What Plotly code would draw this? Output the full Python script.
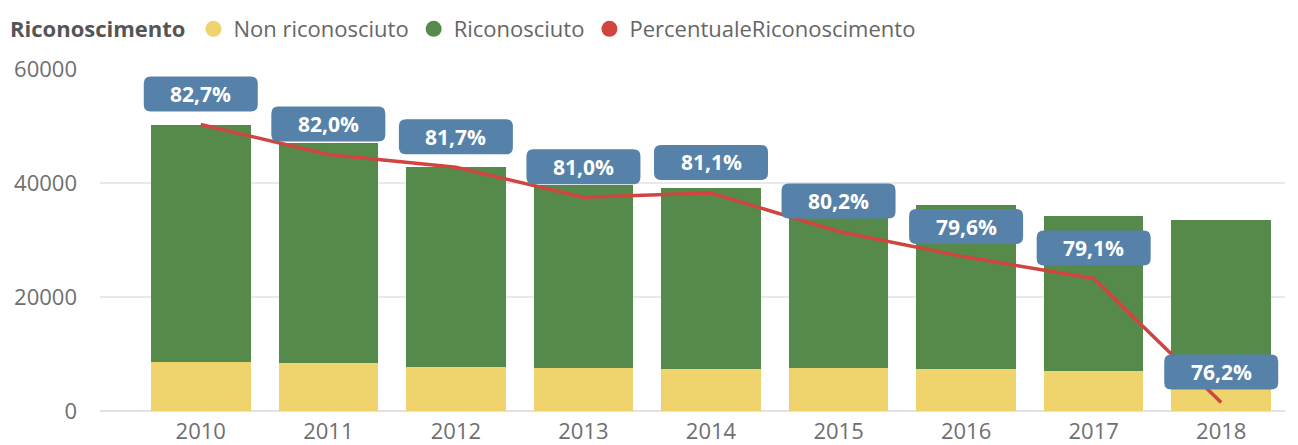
import plotly.graph_objects as go

anni = [2010, 2011, 2012, 2013, 2014, 2015, 2016, 2017, 2018]
non_riconosciuto = [8600, 8370, 7770, 7490, 7310, 7490, 7310, 7070, 3900]
riconosciuto = [41500, 38630, 35030, 32210, 31750, 30110, 28820, 27190, 29600]
percentuale = [82.7, 82.0, 81.7, 81.0, 81.1, 80.2, 79.6, 79.1, 76.2]
y_ticks = [0, 20000, 40000, 60000]

YELLOW = "#EFD36C"
GREEN = "#568A4A"
RED = "#D0453F"
BLUE = "#5681A8"
FONT = "Open Sans"

fig = go.Figure()
fig.add_trace(go.Bar(x=anni, y=non_riconosciuto, name="Non riconosciuto",
                     marker=dict(color=YELLOW, line=dict(width=0)), showlegend=False))
fig.add_trace(go.Bar(x=anni, y=riconosciuto, name="Riconosciuto",
                     marker=dict(color=GREEN, line=dict(width=0)), showlegend=False))
fig.add_trace(go.Scatter(x=anni, y=percentuale, yaxis="y2", mode="lines",
                         line=dict(color=RED, width=3.5), name="PercentualeRiconoscimento",
                         showlegend=False))

# legend entries with circle symbols
for name, col in [("Non riconosciuto", YELLOW), ("Riconosciuto", GREEN),
                  ("PercentualeRiconoscimento", RED)]:
    fig.add_trace(go.Scatter(x=[None], y=[None], mode="markers", name=name,
                             marker=dict(color=col, size=22, symbol="circle")))

# rounded label boxes
hw, y0, y1, r = 57, 13, 48, 7
path = (f"M {-hw + r},{y0} L {hw - r},{y0} Q {hw},{y0} {hw},{y0 + r} "
        f"L {hw},{y1 - r} Q {hw},{y1} {hw - r},{y1} L {-hw + r},{y1} "
        f"Q {-hw},{y1} {-hw},{y1 - r} L {-hw},{y0 + r} Q {-hw},{y0} {-hw + r},{y0} Z")
shapes = []
annotations = []
for a, p in zip(anni, percentuale):
    shapes.append(dict(type="path", xref="x", yref="y2", xsizemode="pixel", ysizemode="pixel",
                       xanchor=a, yanchor=p, path=path, fillcolor=BLUE,
                       line=dict(width=0), layer="above"))
    annotations.append(dict(x=a, y=p, xref="x", yref="y2", yshift=30.5, showarrow=False,
                            text=f"{p:.1f}%".replace(".", ","),
                            font=dict(family=FONT, size=21, color="white", weight="bold")))

# page body has an 8px margin: figure sized/placed to compensate
fig.update_layout(
    width=1290, height=437,
    margin=dict(l=92, r=13, t=61, b=34, autoexpand=False),
    paper_bgcolor="white", plot_bgcolor="white",
    barmode="stack", bargap=0.22,
    font=dict(family=FONT, color="#777777", size=22),
    xaxis=dict(range=[2009.21, 2018.5], tickmode="array", tickvals=anni,
               ticktext=[str(a) for a in anni], showgrid=False, zeroline=False,
               showline=False, ticks="", ticklabelstandoff=5,
               tickfont=dict(size=22, color="#6f6f6f")),
    yaxis=dict(range=[0, 60000], tickvals=y_ticks, tickformat="d",
               showgrid=True, gridcolor="#E9E9E9", gridwidth=1.5,
               zeroline=True, zerolinecolor="#E2E2E2", zerolinewidth=2,
               ticks="", ticklabelstandoff=22, tickfont=dict(size=22, color="#6f6f6f")),
    yaxis2=dict(range=[76.0, 84.0], overlaying="y", side="right", visible=False),
    legend=dict(orientation="h", xref="container", yref="container", x=0.0, y=1.0,
                xanchor="left", yanchor="top", traceorder="normal",
                title=dict(text="<b>Riconoscimento</b>", font=dict(size=22, color="#555555")),
                font=dict(size=22, color="#666666"), itemwidth=30, tracegroupgap=0,
                bgcolor="rgba(0,0,0,0)"),
    shapes=shapes, annotations=annotations,
)

fig.write_html("out.html")
